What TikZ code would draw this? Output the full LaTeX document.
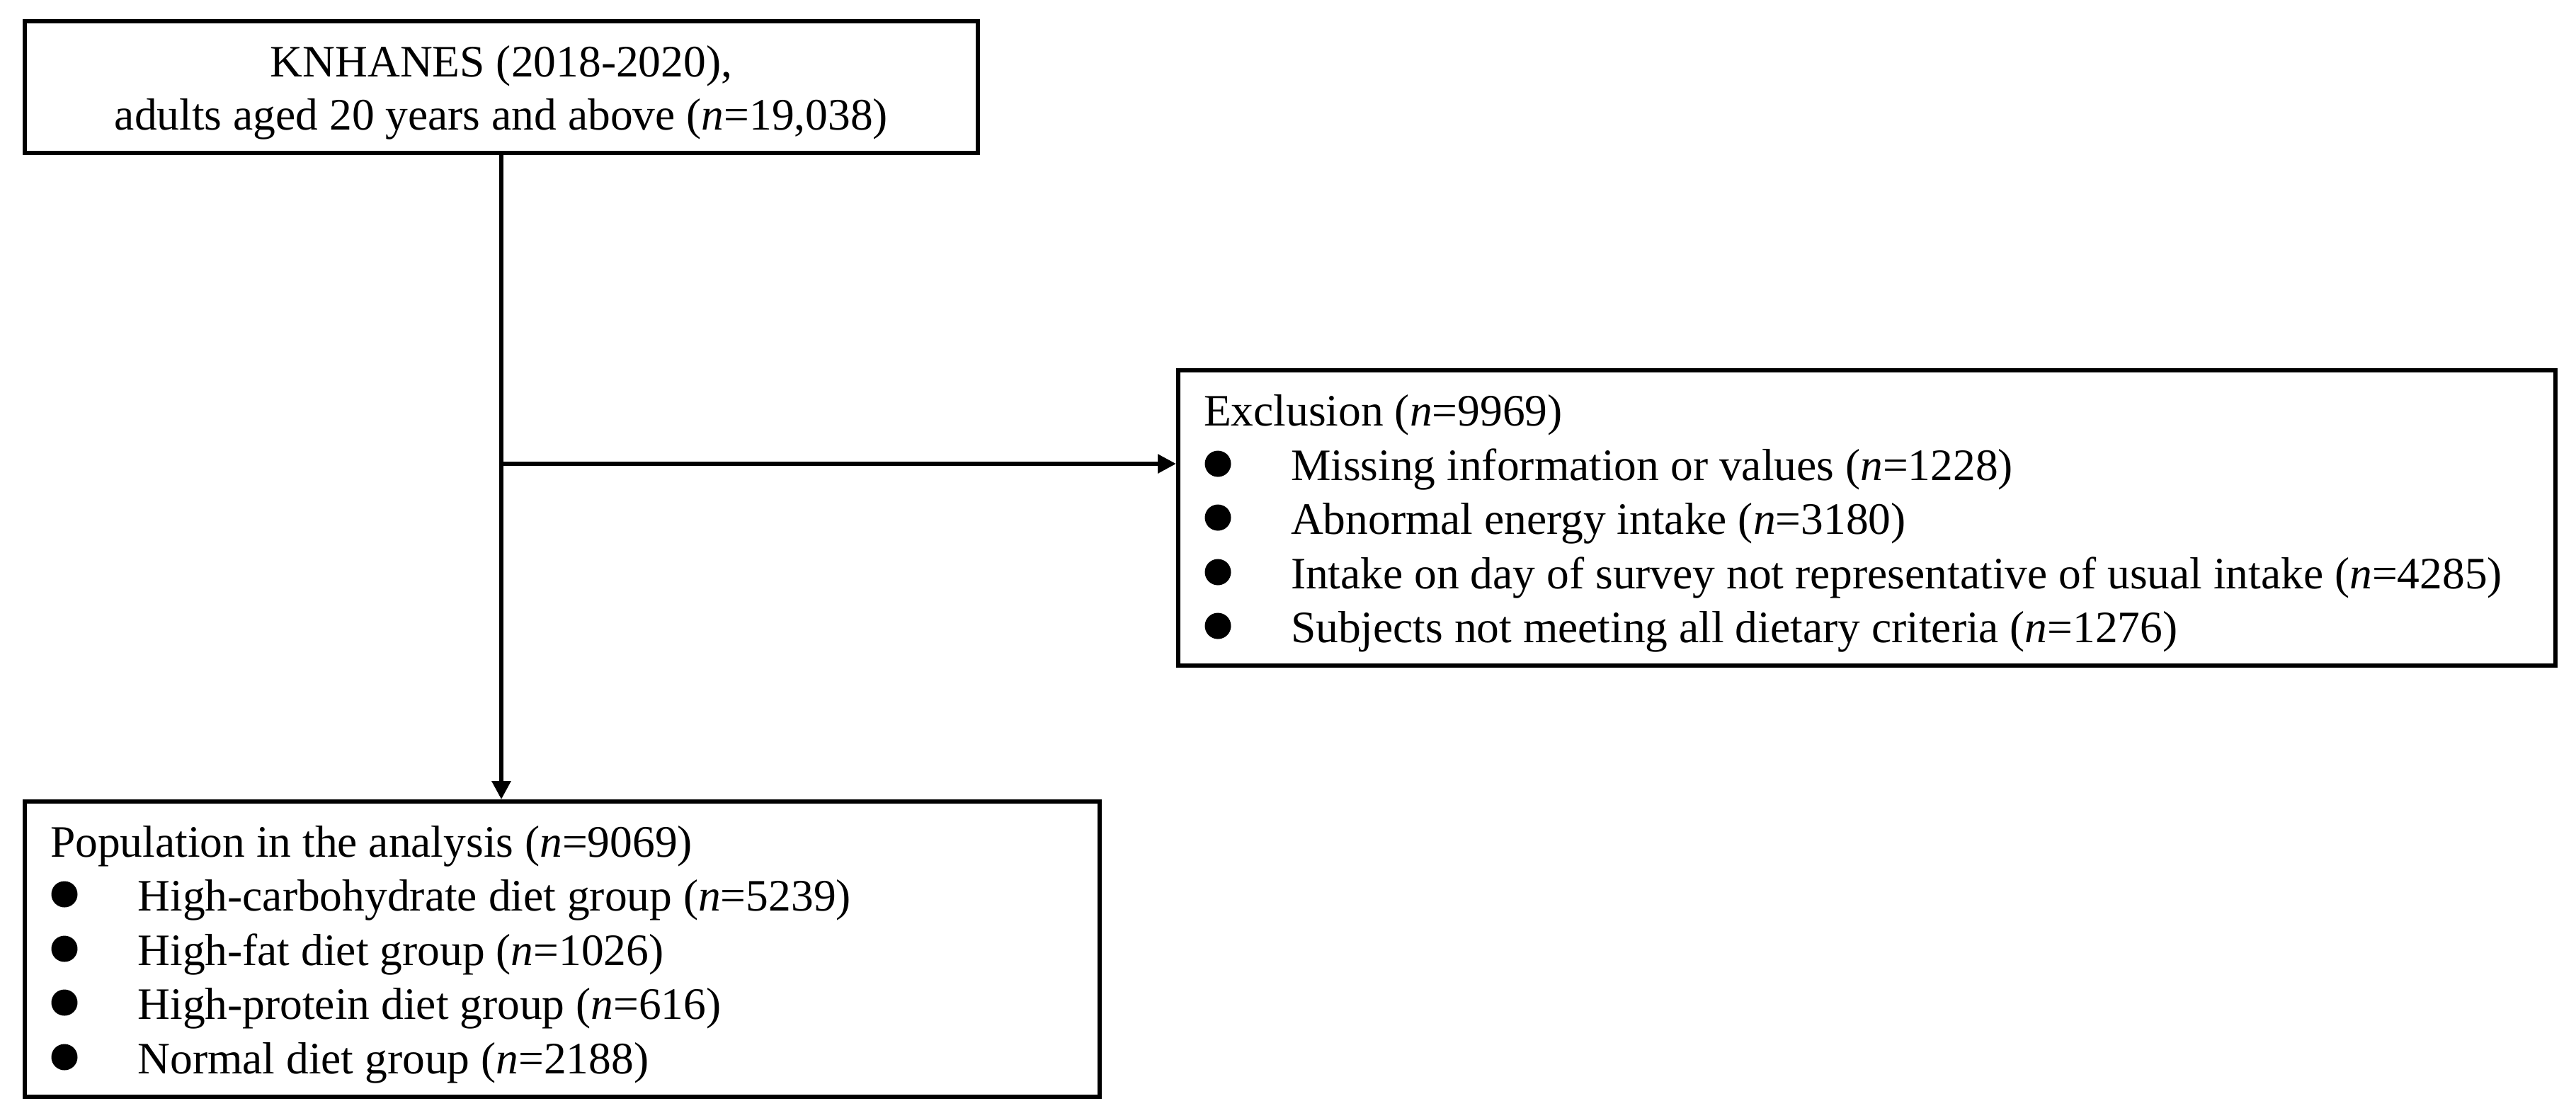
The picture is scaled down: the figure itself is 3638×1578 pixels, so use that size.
\documentclass[tikz,border=0pt]{standalone}
\usepackage{fontspec}
\setmainfont{Liberation Serif}
\usetikzlibrary{arrows.meta}
\begin{document}
\begin{tikzpicture}[x=0.2pt,y=-0.2pt,
  box/.style={draw, line width=1.2pt, inner sep=0pt, rectangle},
  txt/.style={anchor=base west, inner sep=0pt, font=\fontsize{12.7}{15.3}\selectfont},
  ctxt/.style={anchor=base, inner sep=0pt, font=\fontsize{12.7}{15.3}\selectfont},
  dot/.style={circle, fill, inner sep=0pt, minimum size=7.4pt},
  conn/.style={line width=1.2pt},
  arr/.style={conn, -{Triangle[length=5.2pt,width=5.2pt]}}]
\useasboundingbox (0,0) rectangle (3638,1578);

% boxes
\node[box, minimum width=269.2pt, minimum height=37.2pt] (top) at (708,123) {};
\node[box, minimum width=389pt, minimum height=83.4pt] (exc) at (2636.5,731.5) {};
\node[box, minimum width=303.6pt, minimum height=83.4pt] (bot) at (794,1340.5) {};

% top box text
\node[ctxt] (t1) at (708,108) {KNHANES (2018-2020),};
\node[ctxt] (t2) at (708,183) {adults aged 20 years and above (\textit{n}=19,038)};

% exclusion box text
\node[txt] (e0) at (1699,601) {Exclusion (\textit{n}=9969)};
\node[dot] (ed1) at (1720,655) {};
\node[dot] (ed2) at (1720,731) {};
\node[dot] (ed3) at (1720,808) {};
\node[dot] (ed4) at (1720,884) {};
\node[txt] (e1) at (1822,678) {Missing information or values (\textit{n}=1228)};
\node[txt] (e2) at (1822,754) {Abnormal energy intake (\textit{n}=3180)};
\node[txt] (e3) at (1822,831) {Intake on day of survey not representative of usual intake (\textit{n}=4285)};
\node[txt] (e4) at (1822,907) {Subjects not meeting all dietary criteria (\textit{n}=1276)};

% bottom box text
\node[txt] (p0) at (70,1210) {Population in the analysis (\textit{n}=9069)};
\node[dot] (pd1) at (91,1263) {};
\node[dot] (pd2) at (91,1340) {};
\node[dot] (pd3) at (91,1416) {};
\node[dot] (pd4) at (91,1493) {};
\node[txt] (p1) at (193.5,1286) {High-carbohydrate diet group (\textit{n}=5239)};
\node[txt] (p2) at (193.5,1363) {High-fat diet group (\textit{n}=1026)};
\node[txt] (p3) at (193.5,1439) {High-protein diet group (\textit{n}=616)};
\node[txt] (p4) at (193.5,1516) {Normal diet group (\textit{n}=2188)};

% connectors
\coordinate (j) at (708,655);
\draw[arr] (top.south) -- (top.south |- bot.north);
\draw[arr] (j) -- (j -| exc.west);
\end{tikzpicture}
\end{document}
